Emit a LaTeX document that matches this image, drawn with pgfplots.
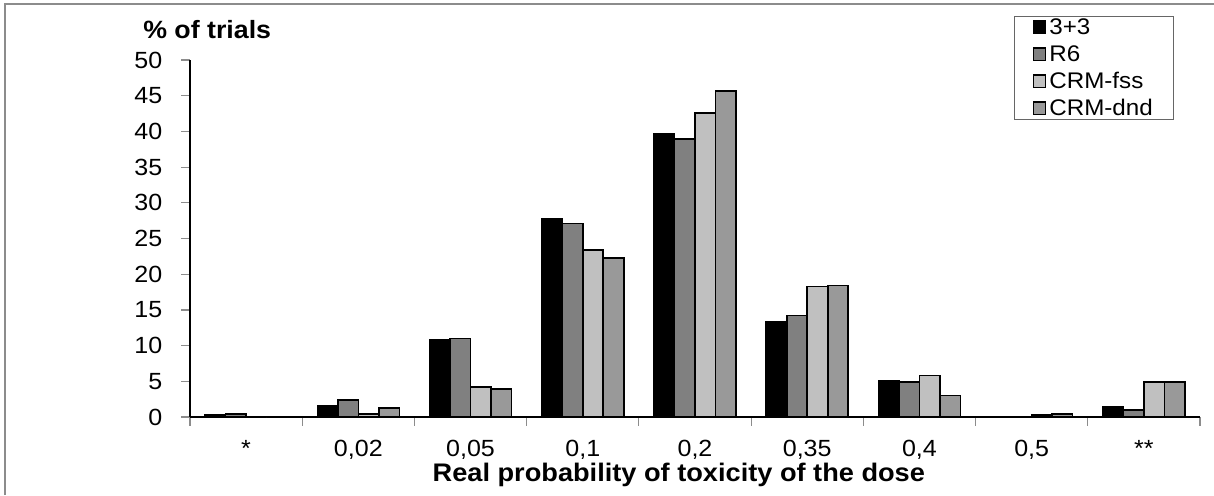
\documentclass[border=0pt]{standalone}
\usepackage{pgfplots}
\pgfplotsset{compat=1.18}
\usepackage{fontspec}
\setmainfont{Liberation Sans}[FakeStretch=1.07]
\definecolor{cR}{HTML}{808080}
\definecolor{cF}{HTML}{C0C0C0}
\definecolor{cD}{HTML}{999999}
\begin{document}
\begin{tikzpicture}
\useasboundingbox (0pt,0pt) rectangle (607pt,247.5pt);
\draw[black!45, line width=0.7pt] (2.5pt,0pt) -- (2.5pt,245.5pt) -- (607pt,245.5pt);
\begin{axis}[
  at={(95pt,39pt)}, anchor=south west,
  scale only axis, width=505pt, height=178.5pt,
  xmin=-0.5, xmax=8.5, ymin=0, ymax=50,
  axis x line*=bottom, axis y line*=left,
  axis line style={black, line width=0.7pt},
  ybar=0pt, bar width=10.25pt,
  xtick={-0.5,0.5,1.5,2.5,3.5,4.5,5.5,6.5,7.5,8.5},
  x tick label as interval,
  xticklabels={*,{0,02},{0,05},{0,1},{0,2},{0,35},{0,4},{0,5},**},
  ytick={0,5,10,15,20,25,30,35,40,45,50},
  tick align=outside,
  major tick length=4.3pt,
  x tick style={black!45, line width=0.6pt},
  y tick style={black!45, line width=0.6pt},
  /pgf/number format/assume math mode=true,
  tick label style={font=\fontsize{11.7}{13}\selectfont},
  yticklabel style={xshift=-6pt},
  xticklabel style={inner sep=0pt, yshift=-7pt},
  xlabel={\textbf{Real probability of toxicity of the dose}},
  xlabel style={font=\fontsize{12.7}{14}\selectfont, inner sep=0pt, at={(rel axis cs:0.484,0)}, anchor=center, yshift=-29pt},
  ylabel={\textbf{\% of trials}},
  ylabel style={font=\fontsize{12.5}{14}\selectfont, rotate=-90, at={(rel axis cs:0.017,1.085)}, anchor=center},
  legend style={at={(0.8158,1.123)}, anchor=north west, draw=black!60, line width=0.6pt,
    font=\fontsize{11.3}{13}\selectfont, row sep=4.6pt, inner xsep=9pt, inner ysep=1pt,
    nodes={text height=7.6pt, text depth=0.8pt, inner ysep=0.25pt, inner xsep=1.5pt},
    cells={anchor=west}},
  legend cell align=left,
  legend image code/.code={\draw[#1, line width=0.7pt] (0pt,-2.9pt) rectangle (6.2pt,3.3pt);},
]
\addplot[fill=black, draw=black, line width=0.8pt] coordinates {(0,0.3) (1,1.6) (2,10.8) (3,27.8) (4,39.6) (5,13.4) (6,5.1) (7,0) (8,1.4)};
\addplot[fill=cR, draw=black, line width=0.8pt] coordinates {(0,0.4) (1,2.4) (2,11.0) (3,27.1) (4,38.9) (5,14.2) (6,4.9) (7,0) (8,1.0)};
\addplot[fill=cF, draw=black, line width=0.8pt] coordinates {(0,0) (1,0.4) (2,4.2) (3,23.4) (4,42.6) (5,18.3) (6,5.8) (7,0.3) (8,4.9)};
\addplot[fill=cD, draw=black, line width=0.8pt] coordinates {(0,0) (1,1.3) (2,3.9) (3,22.3) (4,45.7) (5,18.4) (6,3.0) (7,0.4) (8,4.9)};
\legend{3+3,R6,CRM-fss,CRM-dnd}
\end{axis}
\end{tikzpicture}
\end{document}
